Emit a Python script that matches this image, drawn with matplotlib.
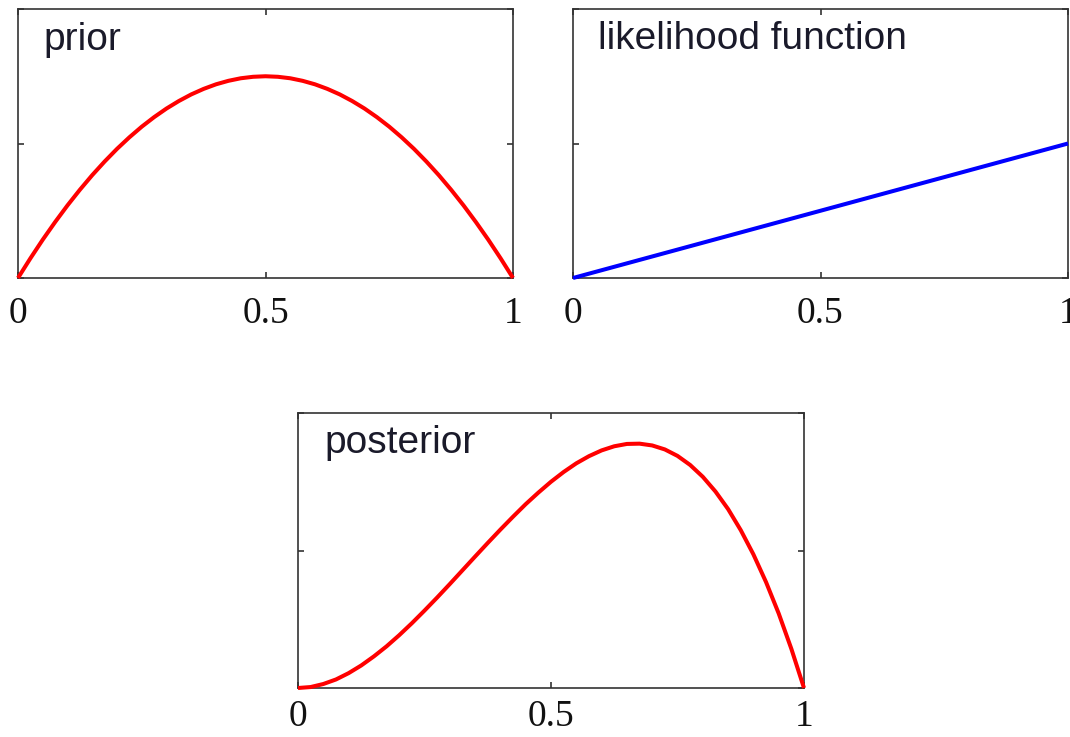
import numpy as np
import matplotlib
matplotlib.use("Agg")
import matplotlib.pyplot as plt

# Sample positions along the horizontal axis (0 .. 1)
mu = np.linspace(0.0, 1.0, 41)

# prior curve values
prior = [0.0, 0.146, 0.285, 0.416, 0.54, 0.656, 0.765, 0.866, 0.96, 1.046,
         1.125, 1.196, 1.26, 1.316, 1.365, 1.406, 1.44, 1.466, 1.485, 1.496,
         1.5, 1.496, 1.485, 1.466, 1.44, 1.406, 1.365, 1.316, 1.26, 1.196,
         1.125, 1.046, 0.96, 0.866, 0.765, 0.656, 0.54, 0.416, 0.285, 0.146, 0.0]

# likelihood function (straight line)
lik_x = [0.0, 1.0]
lik_y = [0.0, 1.0]

# posterior curve values
posterior = [0.0, 0.007, 0.029, 0.062, 0.108, 0.164, 0.230, 0.303, 0.384, 0.471,
             0.563, 0.658, 0.756, 0.856, 0.956, 1.055, 1.152, 1.246, 1.337, 1.421,
             1.5, 1.571, 1.634, 1.686, 1.728, 1.758, 1.775, 1.777, 1.764, 1.735,
             1.688, 1.622, 1.536, 1.429, 1.301, 1.148, 0.972, 0.770, 0.542, 0.285, 0.0]

titles = ["prior", "likelihood function", "posterior"]
xticks = [0, 0.5, 1]
xticklabels = ["0", "0.5", "1"]
yticks = [0, 1, 2]

W, H = 1070, 737
fig = plt.figure(figsize=(W / 100, H / 100), dpi=100)
fig.patch.set_facecolor("white")


def make_ax(left, top, right, bottom):
    return fig.add_axes([left / W, 1 - bottom / H, (right - left) / W, (bottom - top) / H])


ax1 = make_ax(18, 9, 513, 278)
ax2 = make_ax(573, 9, 1068, 278)
ax3 = make_ax(298, 413, 804, 688)

ax1.plot(mu, prior, color="#ff0000", lw=2.9, solid_capstyle="butt", clip_on=False, zorder=3)
ax2.plot(lik_x, lik_y, color="#0000ff", lw=2.9, solid_capstyle="butt", clip_on=False, zorder=3)
ax3.plot(mu, posterior, color="#ff0000", lw=2.9, solid_capstyle="butt", clip_on=False, zorder=3)

text_pos = [(0.0505, 0.848), (0.0505, 0.852), (0.053, 0.855)]
pads = [13, 13, 8.5]
for ax, title, (tx, ty), pad in zip([ax1, ax2, ax3], titles, text_pos, pads):
    ax.set_xlim(0, 1)
    ax.set_ylim(0, 2)
    ax.set_xticks(xticks)
    ax.set_xticklabels(xticklabels, fontfamily="Liberation Serif", fontsize=27, color="#111111")
    ax.set_yticks(yticks)
    ax.set_yticklabels([])
    ax.tick_params(direction="in", top=True, right=True, length=4, width=1.1,
                   color="#222222", pad=pad)
    for s in ax.spines.values():
        s.set_color("#333333")
        s.set_linewidth(1.2)
    ax.text(tx, ty, title, transform=ax.transAxes, fontfamily="Liberation Sans",
            fontsize=28, color="#1a1a2a", va="baseline", ha="left")

fig.savefig("out.png", dpi=100, facecolor="white")
